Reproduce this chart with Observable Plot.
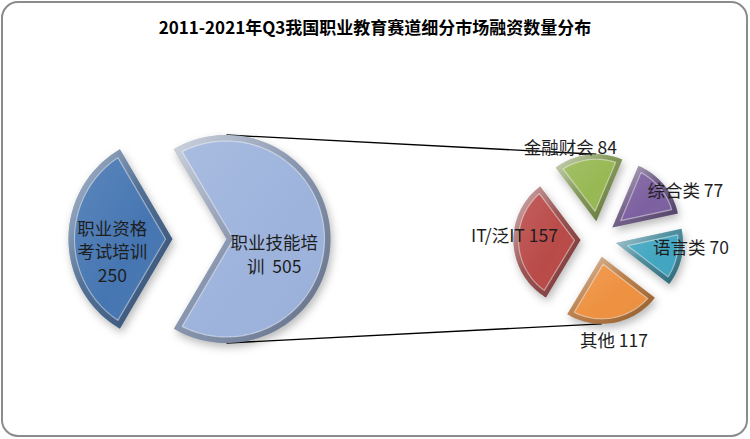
<!DOCTYPE html>
<html><head><meta charset="utf-8">
<script src="https://cdn.jsdelivr.net/npm/d3@7"></script>
<script src="https://cdn.jsdelivr.net/npm/@observablehq/plot@0.6"></script>
<style>
body{margin:0;background:#fff;font-family:"Noto Sans CJK SC","Noto Sans",sans-serif;}
#wrap{position:relative;width:750px;height:439px;overflow:hidden;background:#fff;}
#frame{position:absolute;left:1px;top:1px;width:747px;height:436px;box-sizing:border-box;border:2px solid #8b8b8b;border-radius:17px;}
#title{position:absolute;left:0;top:14px;width:750px;text-align:center;font-weight:bold;font-size:17px;line-height:26px;color:#000;}
#chart{position:absolute;left:0;top:50px;}
</style></head><body>
<div id="wrap"><div id="frame"></div><div id="title"></div><div id="chart"></div></div>
<script>
// ---- data ----
const chartTitle = "2011-2021年Q3我国职业教育赛道细分市场融资数量分布";
const mainCategories = ["职业技能培训", "职业资格考试培训"];
const mainValues = [505, 250];
const subCategories = ["金融财会", "综合类", "语言类", "其他", "IT/泛IT"];
const subValues = [84, 77, 70, 117, 157];

// ---- styles / layout ----
const mainColors = ["#9DB3DC", "#4676B2"];
const subColors = ["#97B853", "#7D60A0", "#41A6C1", "#EE9140", "#B94A48"];
const W = 750, H = 389, TOP = 50;
const deg = Math.PI / 180;
const mainPie = {cx: 226, cy: 238.5, r: 104, explode: [0, 54], wrap: [5, 4], inset: 6,
  labelPolar: [[0.48, 17], [0.59, -11]]};
const subPie = {cx: 598, cy: 238.6, r: 67, explode: 18, start: -37 * deg, inset: 5,
  labelPolar: [[1.185, -12], [1.23, 12], [1.12, -10.5], [1.25, 2.3], [0.99, 8]]};

document.getElementById("title").textContent = chartTitle;

function pt(cx, cy, r, a) { return [cx + r * Math.sin(a), cy - r * Math.cos(a)]; }

function wedge(key, cx, cy, r, a0, a1, explode, inset) {
  const mid = (a0 + a1) / 2;
  const [vx, vy] = pt(cx, cy, explode, mid);
  const half = (a1 - a0) / 2;
  const pts = [];
  const n = Math.max(8, Math.ceil((a1 - a0) / deg / 2));
  if (inset > 0) {
    const k = inset / Math.sin(half);
    pts.push(pt(vx, vy, k, mid));
    const rr = r - inset;
    const d = Math.asin(inset / rr);
    for (let i = 0; i <= n; i++) pts.push(pt(vx, vy, rr, a0 + d + (a1 - a0 - 2 * d) * i / n));
  } else {
    pts.push([vx, vy]);
    for (let i = 0; i <= n; i++) pts.push(pt(vx, vy, r, a0 + (a1 - a0) * i / n));
  }
  return pts.map(([x, y]) => ({key, x, y}));
}

function wrapLabel(name, value, n) {
  const lines = [];
  for (let i = 0; i < name.length; i += n) lines.push(name.slice(i, i + n));
  const last = lines[lines.length - 1];
  if (last.length + 2 <= n) lines[lines.length - 1] = last + "  " + value;
  else lines.push(String(value));
  return lines.join("\n");
}

const mainTotal = d3.sum(mainValues);
const mainStart = Math.PI / 2 - (mainValues[0] / mainTotal) * Math.PI;
const mainArcs = d3.pie().sort(null).startAngle(mainStart).endAngle(mainStart + 2 * Math.PI)(mainValues);
const subArcs = d3.pie().sort(null).startAngle(subPie.start).endAngle(subPie.start + 2 * Math.PI)(subValues);

const slices = [];
mainArcs.forEach((a, i) => slices.push({key: "m" + i, color: mainColors[i], cx: mainPie.cx, cy: mainPie.cy, r: mainPie.r,
  a0: a.startAngle, a1: a.endAngle, explode: mainPie.explode[i], inset: mainPie.inset,
  label: wrapLabel(mainCategories[i], mainValues[i], mainPie.wrap[i]), lp: mainPie.labelPolar[i]}));
subArcs.forEach((a, i) => slices.push({key: "s" + i, color: subColors[i], cx: subPie.cx, cy: subPie.cy, r: subPie.r,
  a0: a.startAngle, a1: a.endAngle, explode: subPie.explode, inset: subPie.inset,
  label: subCategories[i] + " " + subValues[i], lp: subPie.labelPolar[i]}));

const outerRows = [], innerRows = [];
for (const s of slices) {
  for (const p of wedge(s.key, s.cx, s.cy, s.r, s.a0, s.a1, s.explode, 0)) outerRows.push({...p, fill: d3.color(s.color).darker(0.85).formatHex()});
  for (const p of wedge(s.key, s.cx, s.cy, s.r, s.a0, s.a1, s.explode, s.inset)) innerRows.push({...p, fill: s.color});
}

const labels = slices.map(s => {
  const mid = (s.a0 + s.a1) / 2;
  const [vx, vy] = pt(s.cx, s.cy, s.explode, mid);
  const [x, y] = pt(vx, vy, s.lp[0] * s.r, mid + s.lp[1] * deg);
  return {x, y, text: s.label};
});

function sliceAt(arcs, angle) {
  const a = ((angle - subPie.start) % (2 * Math.PI) + 2 * Math.PI) % (2 * Math.PI) + subPie.start;
  return arcs.find(d => a >= d.startAngle && a < d.endAngle);
}
const links = [0, Math.PI].map(ang => {
  const sa = sliceAt(subArcs, ang);
  const mid = (sa.startAngle + sa.endAngle) / 2;
  const [vx, vy] = pt(subPie.cx, subPie.cy, subPie.explode, mid);
  const [x2, y2] = pt(vx, vy, subPie.r, ang);
  const [x1, y1] = pt(mainPie.cx, mainPie.cy, mainPie.r, ang);
  return {x1, y1, x2, y2};
});

const font = '"Noto Sans CJK SC", sans-serif';
const chart = Plot.plot({
  width: W, height: H, margin: 0,
  x: {domain: [0, W], range: [0, W], axis: null},
  y: {domain: [TOP, TOP + H], range: [0, H], axis: null},
  style: {background: "transparent", overflow: "visible"},
  marks: [
    Plot.link(links, {x1: "x1", y1: "y1", x2: "x2", y2: "y2", stroke: "#000", strokeWidth: 1.3}),
    Plot.line(outerRows, {x: "x", y: "y", z: "key", fill: "fill", stroke: "none", curve: "linear-closed"}),
    Plot.line(outerRows, {x: "x", y: "y", z: "key", fill: "url(#shine)", stroke: "none", curve: "linear-closed"}),
    Plot.line(innerRows, {x: "x", y: "y", z: "key", fill: "fill", stroke: "none", curve: "linear-closed"}),
    Plot.line(innerRows, {x: "x", y: "y", z: "key", fill: "url(#face)", stroke: "#fff", strokeOpacity: 0.45, strokeWidth: 1.2, curve: "linear-closed"}),
    Plot.text(labels, {x: "x", y: "y", text: "text", fontSize: 17.5, fill: "#1e1e1e", lineHeight: 1.36, fontFamily: font})
  ]
});
const svg = chart;
const defs = d3.select(svg).insert("defs", ":first-child");
const g1 = defs.append("linearGradient").attr("id", "shine").attr("x1", 0).attr("y1", 0).attr("x2", 1).attr("y2", 1);
g1.append("stop").attr("offset", "0%").attr("stop-color", "#fff").attr("stop-opacity", 0.65);
g1.append("stop").attr("offset", "45%").attr("stop-color", "#fff").attr("stop-opacity", 0.15);
g1.append("stop").attr("offset", "100%").attr("stop-color", "#000").attr("stop-opacity", 0.2);
const g2 = defs.append("linearGradient").attr("id", "face").attr("x1", 0).attr("y1", 0).attr("x2", 1).attr("y2", 1);
g2.append("stop").attr("offset", "0%").attr("stop-color", "#fff").attr("stop-opacity", 0.12);
g2.append("stop").attr("offset", "60%").attr("stop-color", "#fff").attr("stop-opacity", 0);
g2.append("stop").attr("offset", "100%").attr("stop-color", "#000").attr("stop-opacity", 0.06);
const lineGroups = svg.querySelectorAll('g[aria-label="line"]');
if (lineGroups[0]) lineGroups[0].style.filter = "drop-shadow(2px 4px 4px rgba(0,0,0,0.28))";
document.getElementById("chart").appendChild(chart);
</script>
</body></html>
